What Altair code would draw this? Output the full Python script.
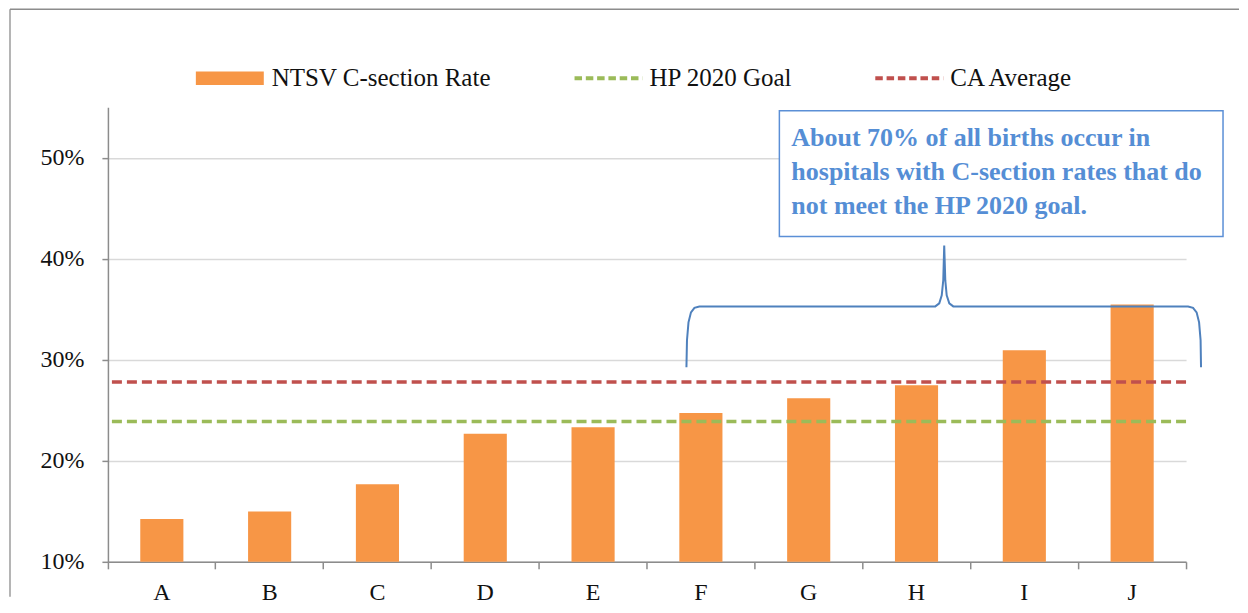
import altair as alt
import pandas as pd

# ---- data ----
hospitals = ["A", "B", "C", "D", "E", "F", "G", "H", "I", "J"]
rates = [0.1425, 0.1497, 0.1767, 0.2267, 0.2333, 0.2472, 0.2620, 0.2748, 0.3094, 0.3548]
bar_series = "NTSV C-section Rate"
ref_names = ["HP 2020 Goal", "CA Average"]
ref_values = [0.239, 0.278]

y_domain = [0.1, 0.55]
y_ticks = [0.1, 0.2, 0.3, 0.4, 0.5]

# brace annotation outline, in (hospital-index units, rate) coordinates
brace_x = [5.366, 5.371, 5.385, 5.408, 5.440, 5.486, 7.674, 7.711, 7.734, 7.748, 7.757,
           7.767, 7.780, 7.804, 7.841, 10.019, 10.065, 10.098, 10.121, 10.135, 10.139]
brace_y = [0.2926, 0.3193, 0.3370, 0.3469, 0.3514, 0.3528, 0.3528, 0.3558, 0.3637, 0.3785, 0.4131,
           0.3785, 0.3637, 0.3558, 0.3528, 0.3528, 0.3514, 0.3469, 0.3370, 0.3193, 0.2926]

note_lines = ["About 70% of all births occur in",
              "hospitals with C-section rates that do",
              "not meet the HP 2020 goal."]
note_box_x = [6.228, 10.343]
note_box_y = [0.5464, 0.4220]
note_text_x = [6.339]
note_text_y = [0.5118]

ORANGE = "#F79646"
GREEN = "#9BBB59"
RED = "#C0504D"
BRACE_BLUE = "#4F81BD"
BOX_BLUE = "#5B8FD6"
TEXT_BLUE = "#558ED5"
AXIS_GRAY = "#8C8C8C"
GRID_GRAY = "#D9D9D9"
FONT = "Liberation Serif"

bars_df = pd.DataFrame({"hospital": hospitals, "rate": rates, "series": bar_series})
ref_df = pd.DataFrame({"name": ref_names, "value": ref_values})
brace_df = pd.DataFrame({"bx": brace_x, "by": brace_y, "ord": list(range(len(brace_x)))})
box_df = pd.DataFrame({"x1": [note_box_x[0]], "x2": [note_box_x[1]],
                       "y1": [note_box_y[0]], "y2": [note_box_y[1]]})
note_df = pd.DataFrame({"tx": note_text_x, "ty": note_text_y, "lines": [note_lines]})
dummy = pd.DataFrame({"k": [0]})

yscale = alt.Scale(domain=y_domain, nice=False, zero=False)
idx_scale = alt.Scale(domain=[0, 10], nice=False, zero=False)
yaxis = alt.Axis(values=y_ticks, format=".0%", labelFontSize=24, labelFont=FONT,
                 labelColor="#111111", labelPadding=18, tickSize=6,
                 tickColor=AXIS_GRAY, tickWidth=1.5, domainColor=AXIS_GRAY,
                 domainWidth=1.5, grid=True, gridColor=GRID_GRAY, gridWidth=1.5, title=None)

bars = alt.Chart(bars_df).mark_bar().encode(
    x=alt.X("hospital:N", sort=hospitals, title=None,
            scale=alt.Scale(paddingInner=0.6, paddingOuter=0.3),
            axis=alt.Axis(orient="bottom", labelAngle=0, ticks=False, tickSize=0,
                          labelPadding=38, labelBaseline="alphabetic", labelFontSize=24,
                          labelFont=FONT, labelColor="#111111", domainColor=AXIS_GRAY,
                          domainWidth=1.5, grid=False)),
    y=alt.Y("rate:Q", scale=yscale, title=None, axis=yaxis),
    y2=alt.datum(0.1),
    fill=alt.Fill("series:N", scale=alt.Scale(domain=[bar_series], range=[ORANGE]),
                  legend=alt.Legend(title=None, orient="none", legendX=88, legendY=-63,
                                    direction="horizontal", labelFontSize=25, labelFont=FONT,
                                    labelColor="#111111", labelLimit=500,
                                    symbolType="M-1,-0.2H1V0.2H-1Z", symbolSize=4624,
                                    symbolStrokeWidth=0, symbolOpacity=1,
                                    labelOffset=8, padding=0)),
)

ticks = alt.Chart(bars_df).mark_bar(opacity=0).encode(
    x=alt.X("hospital:N", sort=hospitals, title=None,
            scale=alt.Scale(paddingInner=0, paddingOuter=0),
            axis=alt.Axis(orient="bottom", labels=False, domain=False, ticks=True,
                          tickSize=7, tickColor=AXIS_GRAY, tickWidth=1.5,
                          bandPosition=1, tickExtra=True, grid=False)),
    y=alt.Y("rate:Q", scale=yscale, title=None, axis=yaxis),
)

rules = alt.Chart(ref_df).mark_rule(strokeDash=[10, 5], strokeWidth=3.5).encode(
    y=alt.Y("value:Q", scale=yscale, title=None, axis=yaxis),
    stroke=alt.Stroke("name:N", scale=alt.Scale(domain=ref_names, range=[GREEN, RED]),
                      legend=alt.Legend(title=None, orient="none", legendX=465, legendY=-65,
                                        direction="horizontal", labelFontSize=25,
                                        labelFont=FONT, labelColor="#111111", labelLimit=500,
                                        symbolType="stroke", symbolSize=4624,
                                        symbolStrokeWidth=4, symbolDash=[7.5, 3.8],
                                        labelOffset=5, columnPadding=74, padding=0)),
)

brace = alt.Chart(brace_df).mark_line(color=BRACE_BLUE, strokeWidth=2, clip=False).encode(
    x=alt.X("bx:Q", scale=idx_scale, axis=None),
    y=alt.Y("by:Q", scale=yscale, title=None, axis=yaxis),
    order="ord:Q",
)

box = alt.Chart(box_df).mark_rect(fill="white", stroke=BOX_BLUE, strokeWidth=1.5).encode(
    x=alt.X("x1:Q", scale=idx_scale, axis=None),
    x2="x2:Q",
    y=alt.Y("y1:Q", scale=yscale, title=None, axis=yaxis),
    y2="y2:Q",
)

note = alt.Chart(note_df).mark_text(align="left", baseline="alphabetic", font=FONT,
                                    fontSize=26, fontWeight="bold", color=TEXT_BLUE,
                                    lineHeight=34).encode(
    x=alt.X("tx:Q", scale=idx_scale, axis=None),
    y=alt.Y("ty:Q", scale=yscale, title=None, axis=yaxis),
    text="lines",
)

frame_left = alt.Chart(dummy).mark_rule(color=AXIS_GRAY, strokeWidth=1.3).encode(
    x=alt.value(-98), y=alt.value(-98), y2=alt.value(490))
frame_top = alt.Chart(dummy).mark_rule(color=AXIS_GRAY, strokeWidth=1.3).encode(
    x=alt.value(-98), x2=alt.value(1132), y=alt.value(-98))

chart = alt.layer(bars, ticks, rules, brace, box, note, frame_left, frame_top).resolve_scale(
    x="independent"
).properties(
    width=1079, height=455,
    padding={"left": 1, "top": 0, "right": 0, "bottom": 0},
    background="white",
).configure(font=FONT).configure_view(stroke=None)

chart.save("out.html", embed_options={"renderer": "svg", "actions": False})
